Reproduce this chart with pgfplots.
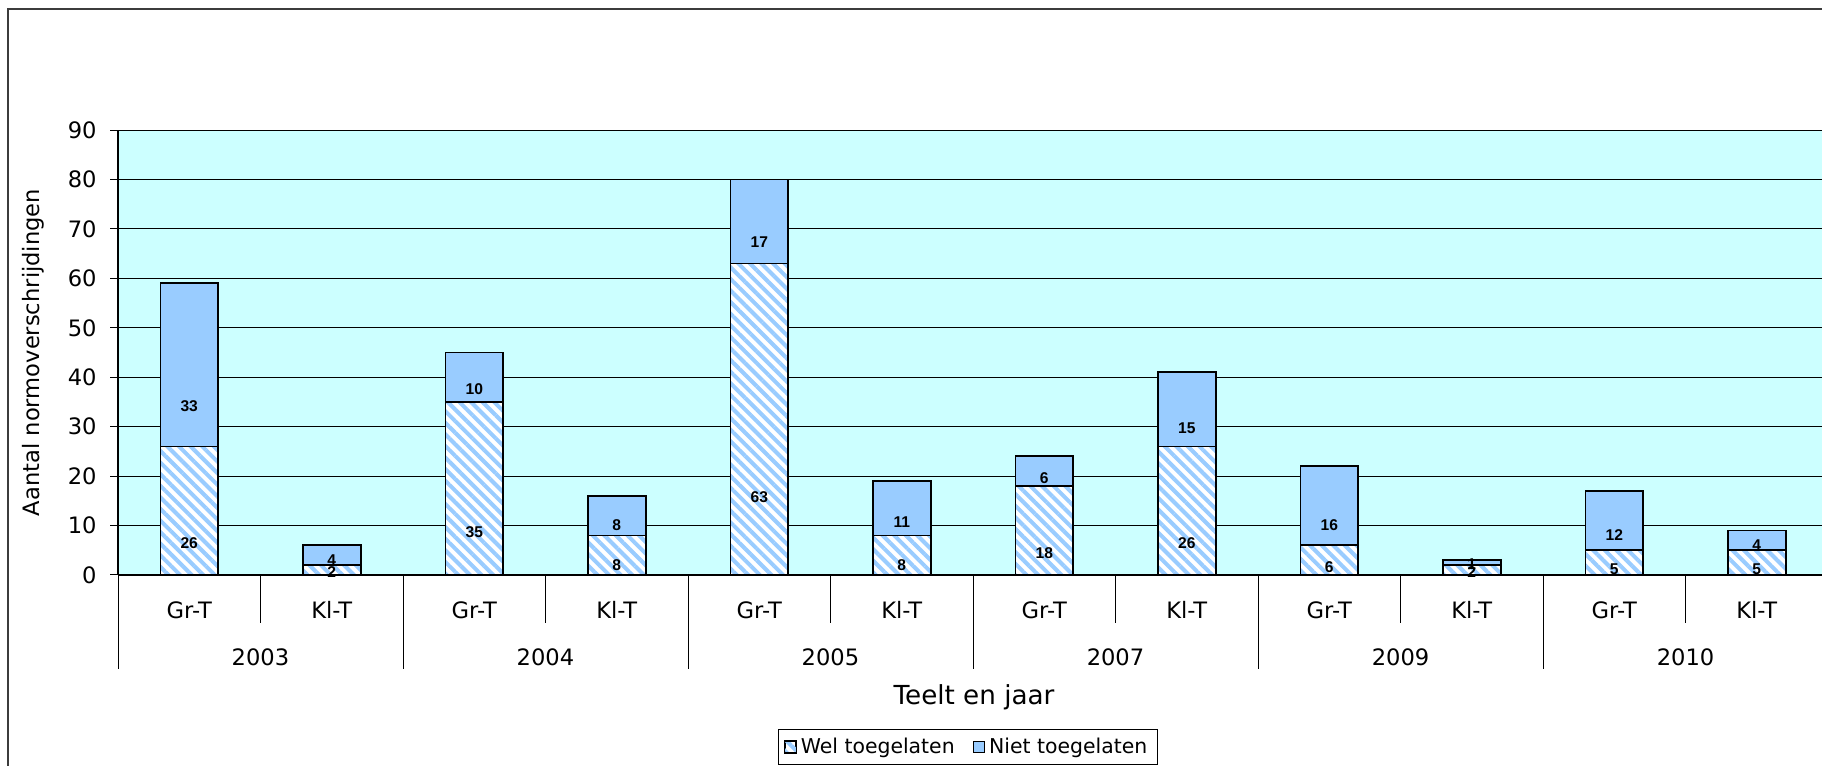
\documentclass[border=0pt]{standalone}
\usepackage{fontspec}
\setmainfont{DejaVu Sans}
\newfontfamily\arialfont{Liberation Sans}
\usepackage{pgfplots}
\pgfplotsset{compat=1.18}
\usepackage{pgfplotstable}
\usetikzlibrary{patterns.meta}
\definecolor{bgcyan}{RGB}{204,255,255}
\definecolor{barblue}{RGB}{153,204,255}
\definecolor{framegray}{RGB}{60,60,60}

\pgfplotstableread{
x wel niet
0 26 33
1 2 4
2 35 10
3 8 8
4 63 17
5 8 11
6 18 6
7 26 15
8 6 16
9 2 1
10 5 12
11 5 4
}\datatable

\pgfplotsset{
  sqlegend/.style={legend image code/.code={\draw[##1, line width=0.5pt] (0pt,-2.85pt) rectangle (5.7pt,2.85pt);}},
  barlabel/.style={every node near coord/.append style={anchor=center, font=\arialfont\bfseries\fontsize{7.8}{9}\selectfont, text=black, inner sep=0pt}},
}

\begin{document}
\begin{tikzpicture}
\begin{axis}[
  at={(59pt,95.5pt)}, anchor=south west,
  scale only axis, width=855pt, height=222.5pt,
  ybar stacked, bar width=28.85pt,
  xmin=-0.5, xmax=11.5, ymin=0, ymax=90,
  axis x line*=bottom, axis y line*=left,
  axis line style={black, line width=0.6pt},
  axis background/.style={fill=bgcyan},
  tick align=outside,
  major tick length=0pt,
  minor tick length=47pt,
  tick style={black, line width=0.5pt},
  ytick={0,10,...,90},
  extra y ticks={0,10,...,90},
  extra y tick labels={},
  extra y tick style={major tick length=4pt},
  ymajorgrids,
  grid style={black, line width=0.5pt},
  xtick={0,...,11},
  xticklabels={Gr-T,Kl-T,Gr-T,Kl-T,Gr-T,Kl-T,Gr-T,Kl-T,Gr-T,Kl-T,Gr-T,Kl-T},
  extra x ticks={0.5,2.5,4.5,6.5,8.5,10.5},
  extra x tick labels={2003,2004,2005,2007,2009,2010},
  extra x tick style={major tick length=24pt, xticklabel style={yshift=0.5pt}},
  minor xtick={-0.5,1.5,3.5,5.5,7.5,9.5,11.5},
  /pgf/number format/assume math mode=true,
  ticklabel style={font=\fontsize{11.3}{13}\selectfont},
  xticklabel style={anchor=center, yshift=-17.5pt},
  yticklabel style={anchor=east, inner sep=0pt, xshift=-10.5pt},
  xlabel={Teelt en jaar},
  ylabel={Aantal normoverschrijdingen},
  every axis x label/.style={at={(axis description cs:0.5006,-0.274)}, anchor=center, font=\fontsize{13.1}{15}\selectfont},
  every axis y label/.style={at={(axis description cs:-0.0497,0.5)}, anchor=center, rotate=90, font=\fontsize{11.3}{14}\selectfont},
  legend style={at={(0.497,-0.3865)}, anchor=center, legend columns=2, draw=black, line width=0.5pt,
    font=\fontsize{10.2}{12}\selectfont, inner xsep=3pt, inner ysep=2pt,
    /tikz/every even column/.style={column sep=7pt}},
]
\addplot[draw=black, line width=0.9pt, preaction={fill=white},
  pattern={Lines[angle=-45,distance=4.1pt,line width=2pt]}, pattern color=barblue, sqlegend,
  nodes near coords, nodes near coords align=center, barlabel,
  visualization depends on={rawy\as\rawy},
  every node near coord/.append style={yshift=-\rawy*0.618pt}]
  table[x=x, y=wel] {\datatable};
\addlegendentry{Wel toegelaten}
\addplot[draw=black, line width=0.9pt, fill=barblue, sqlegend,
  nodes near coords, nodes near coords align=center, barlabel,
  visualization depends on={rawy\as\rawy},
  every node near coord/.append style={yshift=-\rawy*0.618pt}]
  table[x=x, y=niet] {\datatable};
\addlegendentry{Niet toegelaten}
\end{axis}
\draw[framegray, line width=0.7pt] (4pt,-10pt) -- (4pt,378.5pt) -- (930pt,378.5pt);
\pgfresetboundingbox
\path[use as bounding box] (0,0) rectangle (911pt,383pt);
\end{tikzpicture}
\end{document}
